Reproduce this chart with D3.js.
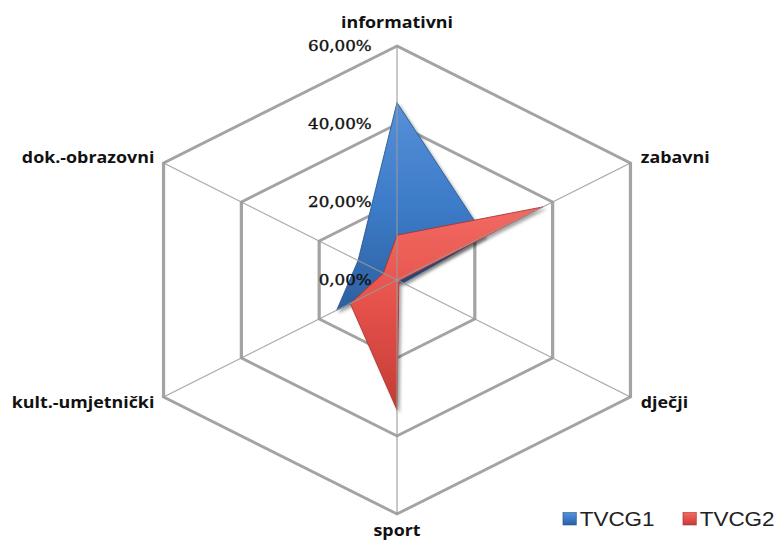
<!DOCTYPE html>
<html>
<head>
<meta charset="utf-8">
<script src="https://cdn.jsdelivr.net/npm/d3@7"></script>
<style>
  body { margin: 0; background: #fff; }
  svg { display: block; }
</style>
</head>
<body>
<svg id="chart" width="778" height="542"></svg>
<script>
// axes of the radar, clockwise from the top
var categories = ["informativni", "zabavni", "dječji", "sport", "kult.-umjetnički", "dok.-obrazovni"];
var seriesNames = ["TVCG1", "TVCG2"];
var tvcg1 = [0.455, 0.225, 0.015, 0.005, 0.155, 0.10];
var tvcg2 = [0.115, 0.375, 0.005, 0.333, 0.12, 0.035];
var ticks = [0, 0.2, 0.4, 0.6];
var gridLevels = [0.2, 0.4, 0.6];

// the original picture is stretched sideways, so draw regular and stretch the group
var sx = 1.152,
    cx = 397 / sx,
    cy = 280,
    R = 234;

var svg = d3.select("#chart");
var defs = svg.append("defs");

var colors = [
  {top: "#5790d8", mid: "#3c7bc8", bot: "#2d609f", edge: "#28568f"},
  {top: "#f26a62", mid: "#e5504a", bot: "#c23c36", edge: "#a8332e"}
];
colors.forEach(function(c, i) {
  var g = defs.append("linearGradient").attr("id", "grad" + i)
    .attr("x1", 0).attr("y1", 0).attr("x2", 0).attr("y2", 1);
  g.append("stop").attr("offset", "0%").attr("stop-color", c.top);
  g.append("stop").attr("offset", "50%").attr("stop-color", c.mid);
  g.append("stop").attr("offset", "100%").attr("stop-color", c.bot);
});
var f = defs.append("filter").attr("id", "shadow")
  .attr("x", "-20%").attr("y", "-20%").attr("width", "140%").attr("height", "140%");
f.append("feDropShadow").attr("dx", 2).attr("dy", 2.5).attr("stdDeviation", 1.6)
  .attr("flood-color", "#000").attr("flood-opacity", 0.35);

var root = svg.append("g").attr("transform", "scale(" + sx + ",1)");
var g = root.append("g").attr("transform", "translate(" + cx + "," + cy + ")");

var r = d3.scaleLinear().domain([0, 0.6]).range([0, R]);
var angle = function(i) { return i * 2 * Math.PI / categories.length; };
var pt = function(i, v) { return [r(v) * Math.sin(angle(i)), -r(v) * Math.cos(angle(i))]; };

var line = d3.line().curve(d3.curveLinearClosed);

// hexagon rings
g.selectAll("path.ring").data(gridLevels).join("path")
  .attr("class", "ring")
  .attr("d", function(lv) { return line(categories.map(function(c, i) { return pt(i, lv); })); })
  .attr("fill", "none")
  .attr("stroke", "#a3a3a3")
  .attr("stroke-width", 2.8)
  .attr("stroke-linejoin", "miter");

// series
var series = [tvcg1, tvcg2];
g.selectAll("path.series").data(series).join("path")
  .attr("class", "series")
  .attr("d", function(vals) { return line(vals.map(function(v, i) { return pt(i, v); })); })
  .attr("fill", function(d, i) { return "url(#grad" + i + ")"; })
  .attr("stroke", function(d, i) { return colors[i].edge; })
  .attr("stroke-width", 0.8)
  .attr("stroke-linejoin", "round")
  .attr("filter", "url(#shadow)");

// spokes, drawn above the fills
g.selectAll("line.spoke").data(categories).join("line")
  .attr("class", "spoke")
  .attr("x1", 0).attr("y1", 0)
  .attr("x2", function(c, i) { return pt(i, 0.6)[0]; })
  .attr("y2", function(c, i) { return pt(i, 0.6)[1]; })
  .attr("stroke", "#9a9a9a")
  .attr("stroke-opacity", 0.85)
  .attr("stroke-width", 1.1);

// tick labels along the top axis
var fmt = d3.formatLocale({decimal: ",", thousands: ".", grouping: [3], currency: ["", ""]}).format(".2%");
g.selectAll("text.tick").data(ticks).join("text")
  .attr("class", "tick")
  .attr("x", -22)
  .attr("y", function(t) { return -r(t); })
  .attr("dy", "0.35em")
  .attr("text-anchor", "end")
  .attr("font-family", "'DejaVu Serif', serif")
  .attr("font-size", 14.5)
  .attr("fill", "#111")
  .attr("stroke", "#111")
  .attr("stroke-width", 0.35)
  .text(fmt);

// category labels
g.selectAll("text.cat").data(categories).join("text")
  .attr("class", "cat")
  .attr("x", function(c, i) {
    var p = pt(i, 0.6);
    if (Math.abs(p[0]) < 1) return p[0];
    return p[0] + (p[0] > 0 ? 9 : -8);
  })
  .attr("y", function(c, i) {
    var p = pt(i, 0.6);
    if (i === 0) return p[1] - 18;
    if (i === 3) return p[1] + 22;
    return p[1] + (p[1] < 0 ? -5 : 6);
  })
  .attr("dy", function(c, i) { return (i === 0 || i === 3) ? 0 : "0.35em"; })
  .attr("text-anchor", function(c, i) {
    var p = pt(i, 0.6);
    if (Math.abs(p[0]) < 1) return "middle";
    return p[0] > 0 ? "start" : "end";
  })
  .attr("font-family", "'Open Sans', sans-serif")
  .attr("font-weight", "bold")
  .attr("font-size", 15.5)
  .attr("fill", "#111")
  .text(function(c) { return c; });

// legend
var legend = root.append("g").attr("transform", "translate(" + (563 / sx) + ",519)");
var item = legend.selectAll("g").data(seriesNames).join("g")
  .attr("transform", function(d, i) { return "translate(" + (i * 120 / sx) + ",0)"; });
item.append("rect")
  .attr("x", 0).attr("y", -6.5)
  .attr("width", 11.5).attr("height", 12.5)
  .attr("fill", function(d, i) { return "url(#grad" + i + ")"; })
  .attr("stroke", function(d, i) { return colors[i].edge; })
  .attr("stroke-width", 0.6);
item.append("text")
  .attr("x", 14.5)
  .attr("y", 0)
  .attr("dy", "0.36em")
  .attr("font-family", "'Liberation Sans', Arial, sans-serif")
  .attr("font-size", 19.5)
  .attr("fill", "#222")
  .text(function(d) { return d; });
</script>
</body>
</html>
